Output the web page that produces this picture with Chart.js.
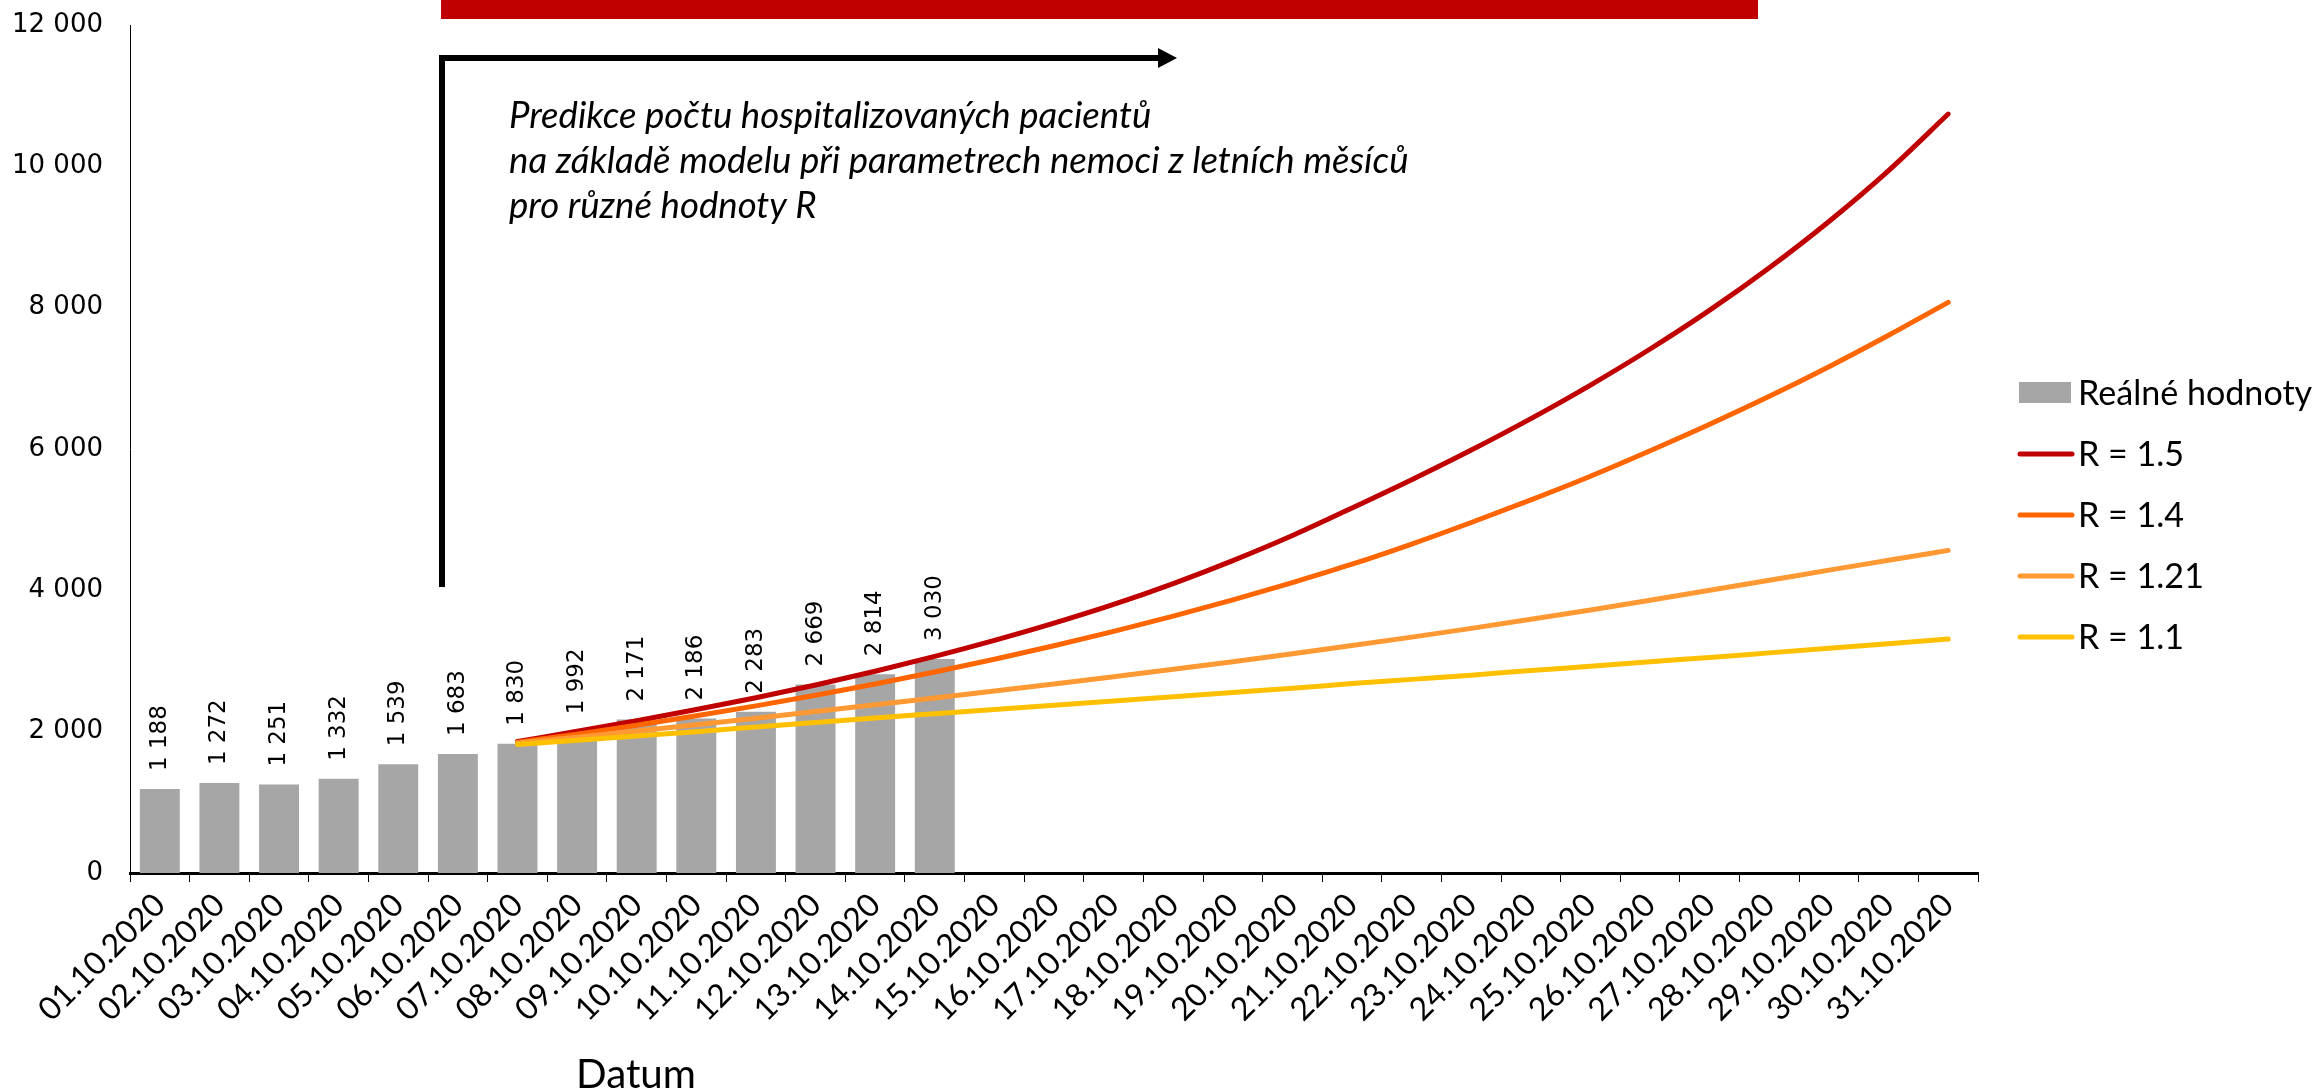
<!DOCTYPE html>
<html>
<head>
<meta charset="utf-8">
<script src="https://cdn.jsdelivr.net/npm/chart.js@4.4.1/dist/chart.umd.min.js"></script>
<style>
  html, body { margin: 0; padding: 0; background: #ffffff; }
  #wrap { width: 2320px; height: 1091px; }
</style>
</head>
<body>
<div id="wrap"><canvas id="c" width="2320" height="1091"></canvas></div>
<script>
// ---- data ----
const dates = ['01.10.2020','02.10.2020','03.10.2020','04.10.2020','05.10.2020','06.10.2020','07.10.2020',
  '08.10.2020','09.10.2020','10.10.2020','11.10.2020','12.10.2020','13.10.2020','14.10.2020','15.10.2020',
  '16.10.2020','17.10.2020','18.10.2020','19.10.2020','20.10.2020','21.10.2020','22.10.2020','23.10.2020',
  '24.10.2020','25.10.2020','26.10.2020','27.10.2020','28.10.2020','29.10.2020','30.10.2020','31.10.2020'];
const realValues = [1188,1272,1251,1332,1539,1683,1830,1992,2171,2186,2283,2669,2814,3030];
const r15 = [null,null,null,null,null,null,1860,2005,2155,2313,2481,2661,2855,3065,3291,3535,3800,4095,4420,4775,5165,5565,5985,6430,6905,7415,7965,8565,9220,9940,10740];
const r14 = [null,null,null,null,null,null,1850,1965,2090,2225,2365,2515,2675,2845,3025,3215,3420,3635,3865,4110,4370,4655,4960,5280,5615,5975,6350,6745,7165,7610,8075];
const r121 = [null,null,null,null,null,null,1840,1922,2008,2098,2190,2284,2380,2477,2575,2675,2777,2882,2990,3102,3218,3338,3462,3590,3723,3860,4000,4142,4286,4425,4565];
const r11 = [null,null,null,null,null,null,1820,1880,1940,2000,2065,2130,2195,2255,2315,2375,2435,2495,2555,2615,2680,2740,2800,2865,2925,2990,3050,3115,3180,3245,3310];
const seriesNames = ['Reálné hodnoty','R = 1.5','R = 1.4','R = 1.21','R = 1.1'];
const yTicks = [0,2000,4000,6000,8000,10000,12000];
const noteLines = ['Predikce počtu hospitalizovaných pacientů',
  'na základě modelu při parametrech nemoci z letních měsíců',
  'pro různé hodnoty R'];
const axisTitle = 'Datum';

const fmt = v => String(v).replace(/\B(?=(\d{3})+(?!\d))/g, ' ');
const LATO = 'Lato, "Open Sans", sans-serif';

function fitSize(ctx, text, targetW, style) {
  ctx.font = style + ' 100px ' + LATO;
  return 100 * targetW / ctx.measureText(text).width;
}

const decor = {
  id: 'decor',
  afterDatasetsDraw(chart) {
    const ctx = chart.ctx;
    const meta = chart.getDatasetMeta(0);
    ctx.save();
    ctx.fillStyle = '#000';
    ctx.font = '23px "DejaVu Sans", sans-serif';
    ctx.textAlign = 'left';
    ctx.textBaseline = 'middle';
    meta.data.forEach((bar, i) => {
      const v = realValues[i];
      if (v == null) return;
      ctx.save();
      ctx.translate(bar.x, bar.y - 18);
      ctx.rotate(-Math.PI / 2);
      ctx.fillText(fmt(v), 0, 0);
      ctx.restore();
    });
    ctx.restore();
  },
  afterDraw(chart) {
    const ctx = chart.ctx;
    ctx.save();
    ctx.fillStyle = '#C00000';
    ctx.fillRect(441, 0, 1317, 19);
    ctx.strokeStyle = '#000';
    ctx.lineWidth = 6;
    ctx.lineCap = 'butt';
    ctx.beginPath();
    ctx.moveTo(442, 587);
    ctx.lineTo(442, 58);
    ctx.lineTo(1160, 58);
    ctx.stroke();
    ctx.fillStyle = '#000';
    ctx.beginPath();
    ctx.moveTo(1158, 48);
    ctx.lineTo(1177, 58);
    ctx.lineTo(1158, 68);
    ctx.closePath();
    ctx.fill();
    const ns = fitSize(ctx, noteLines[1], 900, 'italic');
    ctx.font = 'italic ' + ns.toFixed(1) + 'px ' + LATO;
    ctx.textAlign = 'left';
    ctx.textBaseline = 'alphabetic';
    noteLines.forEach((t, i) => ctx.fillText(t, 509, 128 + 45 * i));
    const ts = fitSize(ctx, axisTitle, 111, 'normal') * 1.08;
    ctx.font = ts.toFixed(1) + 'px ' + LATO;
    ctx.textAlign = 'center';
    ctx.textBaseline = 'alphabetic';
    ctx.fillText(axisTitle, 636, 1088);
    const ls = fitSize(ctx, seriesNames[0], 234, 'normal');
    ctx.font = ls.toFixed(1) + 'px ' + LATO;
    ctx.textAlign = 'left';
    ctx.textBaseline = 'middle';
    const ys = [393, 454, 515, 576, 637];
    chart.data.datasets.forEach((ds, i) => {
      const y = ys[i];
      if (ds.type === 'line') {
        ctx.strokeStyle = ds.borderColor;
        ctx.lineWidth = 5;
        ctx.lineCap = 'round';
        ctx.beginPath();
        ctx.moveTo(2020, y);
        ctx.lineTo(2072, y);
        ctx.stroke();
      } else {
        ctx.fillStyle = ds.backgroundColor;
        ctx.fillRect(2019, y - 11, 52, 21);
      }
      ctx.fillStyle = '#000';
      ctx.fillText(ds.label, 2078, y + 1);
    });
    ctx.restore();
  }
};

const lineDs = (label, data, color, order) => ({
  type: 'line', label, data, borderColor: color, backgroundColor: color,
  borderWidth: 5, pointRadius: 0, pointHoverRadius: 0, fill: false,
  cubicInterpolationMode: 'monotone', borderCapStyle: 'round', borderJoinStyle: 'round',
  spanGaps: false, order
});

new Chart(document.getElementById('c'), {
  type: 'bar',
  data: {
    labels: dates,
    datasets: [
      { type: 'bar', label: seriesNames[0], data: realValues, backgroundColor: '#A6A6A6',
        categoryPercentage: 1.0, barPercentage: 0.67, order: 10 },
      lineDs(seriesNames[1], r15, '#C00000', 4),
      lineDs(seriesNames[2], r14, '#FF6600', 3),
      lineDs(seriesNames[3], r121, '#FF9933', 2),
      lineDs(seriesNames[4], r11, '#FFC000', 1)
    ]
  },
  options: {
    responsive: false,
    devicePixelRatio: 1,
    animation: false,
    layout: { padding: { left: 0, right: 342, top: 25, bottom: 0 } },
    plugins: { legend: { display: false }, tooltip: { enabled: false }, title: { display: false } },
    scales: {
      x: {
        offset: true,
        grid: { display: true, drawOnChartArea: false, drawTicks: true, tickLength: 9, color: '#000', lineWidth: 1, offset: true },
        border: { display: true, color: '#000', width: 3 },
        ticks: { autoSkip: false, maxRotation: 45, minRotation: 45, color: '#000', padding: 4,
          font: { family: LATO, size: 32 } },
        afterFit(scale) { scale.height = 218; }
      },
      y: {
        min: 0, max: 12000,
        afterBuildTicks(scale) { scale.ticks = yTicks.map(v => ({ value: v })); },
        grid: { display: false, drawTicks: true, tickLength: 27 },
        border: { display: true, color: '#000', width: 1 },
        ticks: { color: '#000', padding: 0, font: { family: '"DejaVu Sans", sans-serif', size: 26 },
          callback: v => fmt(v) },
        afterFit(scale) { scale.width = 130; }
      }
    }
  },
  plugins: [decor]
});
</script>
</body>
</html>
